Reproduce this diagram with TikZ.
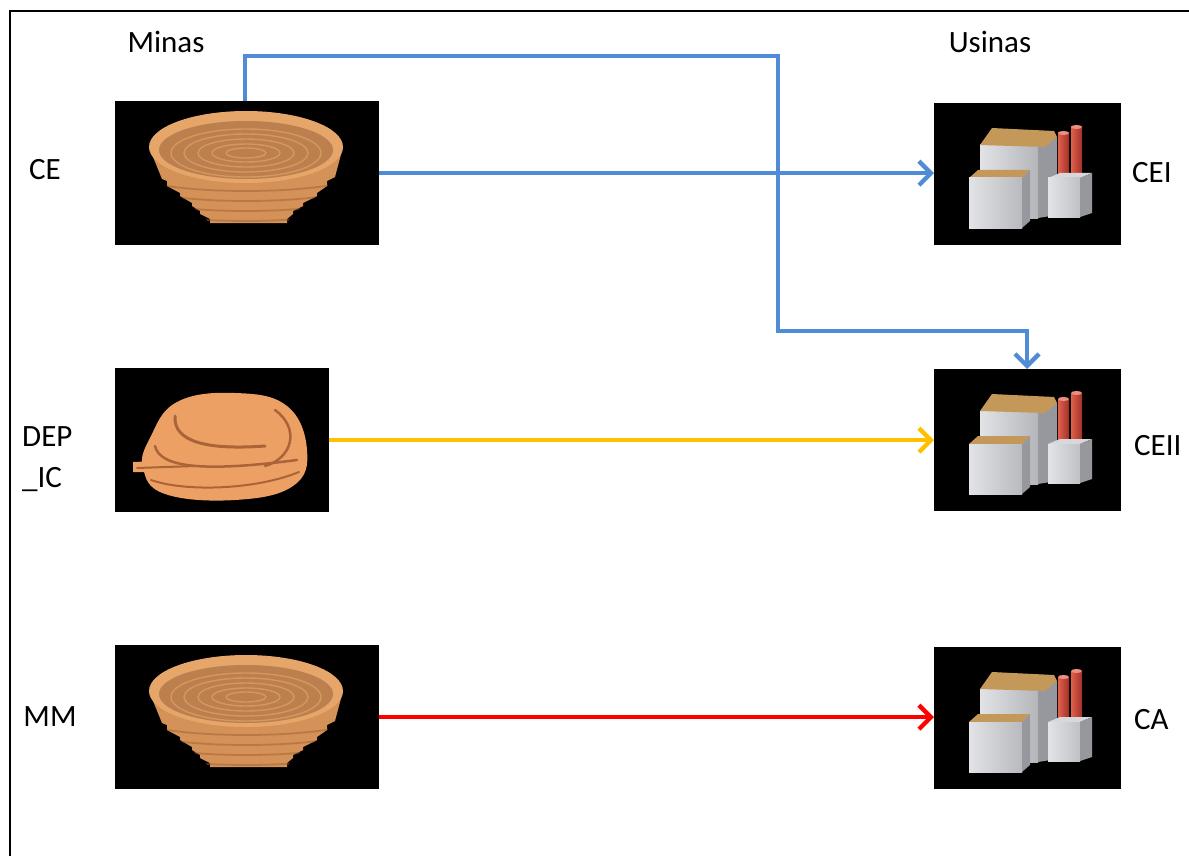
\documentclass[tikz,border=0pt]{standalone}
\usepackage{fontspec}
\setmainfont{Carlito}
\usetikzlibrary{arrows.meta}

\definecolor{flowblue}{RGB}{79,139,214}
\definecolor{flowyellow}{RGB}{255,192,0}
\definecolor{flowred}{RGB}{255,0,0}
\definecolor{ore}{RGB}{212,145,88}
\definecolor{oredark}{RGB}{160,98,52}
\definecolor{orelight}{RGB}{230,165,105}
\definecolor{mound}{RGB}{236,160,100}
\definecolor{mounddark}{RGB}{170,100,55}
\definecolor{roof}{RGB}{196,152,88}
\definecolor{wall}{RGB}{225,227,231}
\definecolor{wallshade}{RGB}{150,152,158}
\definecolor{stack}{RGB}{225,95,75}
\definecolor{stackdark}{RGB}{160,50,40}

% open-pit mine drawn as a stepped bowl, in local box coordinates
\newcommand{\pitbowl}{%
  \path[fill=ore] (34,46) -- (47,78) -- (52,80) -- (52,85) -- (65,92) -- (65,95)
    -- (77,102) -- (77,105) -- (85,110) -- (85,113) -- (95,118) -- (95,122)
    -- (172,122) -- (172,118) -- (178,113) -- (178,110) -- (188,105) -- (188,102)
    -- (202,95) -- (202,92) -- (212,85) -- (212,80) -- (220,76) -- (228,46) -- cycle;
  \begin{scope}
    \clip (34,46) -- (47,78) -- (52,85) -- (65,95) -- (77,105) -- (85,113) -- (95,122)
      -- (172,122) -- (178,113) -- (188,105) -- (202,95) -- (212,85) -- (220,76) -- (228,46) -- cycle;
    \foreach \yy in {70,80,90,100,108}
      \draw[oredark, line width=1.8pt, opacity=0.5] (11,\yy) arc[start angle=180, end angle=0, x radius=120, y radius=20];
  \end{scope}
  \fill[orelight] (131,46) ellipse[x radius=97, y radius=36];
  \fill[ore!88!black] (131,49) ellipse[x radius=87, y radius=29];
  \foreach \rr/\ss in {75/24,62/19,48/14,34/9,20/5}
    \draw[orelight!80!ore, line width=1.4pt, opacity=0.7] (131,52) ellipse[x radius=\rr, y radius=\ss];
}

% waste dump drawn as a terraced mound
\newcommand{\dumpmound}{%
  \fill[mound] plot[smooth cycle, tension=0.7] coordinates
    {(28,100) (35,70) (62,34) (120,25) (172,38) (192,82) (178,118) (120,132) (50,126)};
  \fill[mound] (18,94) -- (70,92) -- (70,104) -- (18,104) -- cycle;
  \draw[mounddark, line width=3pt, line cap=round] (60,48) .. controls (58,75) and (95,82) .. (150,78);
  \draw[mounddark, line width=2.5pt, line cap=round] (40,78) .. controls (45,100) and (90,104) .. (182,92);
  \draw[mounddark, line width=2.5pt, line cap=round] (160,42) .. controls (185,60) and (178,90) .. (150,98);
  \draw[mounddark, line width=2pt, line cap=round] (22,100) -- (80,98);
  \draw[mounddark, line width=2pt, line cap=round] (36,112) .. controls (70,124) and (140,122) .. (184,104);
}

% processing plant drawn as grey blocks with two red stacks
\newcommand{\plant}{%
  % main block
  \fill[wallshade] (104,44) -- (123,34) -- (123,112) -- (104,115) -- cycle;
  \shade[left color=wall, right color=wall!80!black] (46,42) rectangle (104,115);
  \fill[roof] (46,42) -- (58,25) -- (120,28) -- (123,34) -- (111,44) -- cycle;
  % stacks
  \shade[left color=stack, right color=stackdark] (124,30) rectangle (135,80);
  \shade[left color=stack, right color=stackdark] (137,24) rectangle (148,80);
  \fill[stack!70!white] (129.5,30) ellipse[x radius=5.5, y radius=2];
  \fill[stack!70!white] (142.5,24) ellipse[x radius=5.5, y radius=2];
  % small right block
  \fill[wall!95!black] (114,75) -- (146,75) -- (158,70) -- (126,70) -- cycle;
  \shade[left color=wall, right color=wall!85!black] (114,75) rectangle (146,114);
  \fill[wallshade] (146,75) -- (158,70) -- (158,110) -- (146,114) -- cycle;
  % front left block
  \fill[roof] (35,75) -- (44,67) -- (96,67) -- (88,75) -- cycle;
  \shade[left color=wall, right color=wall!82!black] (35,75) rectangle (88,125);
  \fill[wallshade] (88,75) -- (96,67) -- (96,118) -- (88,125) -- cycle;
}

\begin{document}
\begin{tikzpicture}[x=1pt, y=-1pt,
    lbl/.style={font=\fontsize{31}{41}\selectfont, inner sep=0pt},
    minebox/.style={fill=black, draw=none, inner sep=0pt, anchor=north west, minimum height=144pt},
    plantbox/.style={fill=black, draw=none, inner sep=0pt, anchor=north west, minimum width=187pt, minimum height=142pt},
    flow/.style={line width=4.3pt, -{Straight Barb[length=12pt, width=24pt]}}]

  \useasboundingbox (0,0) rectangle (1189,856);
  \fill[white] (0,0) rectangle (1189,856);

  % outer frame (runs off the right and bottom edges)
  \draw[line width=2pt] (10,860) -- (10,11) -- (1195,11);

  % mines
  \node[minebox, minimum width=264pt] (ce) at (115,101) {};
  \node[minebox, minimum width=214pt] (dep) at (115,368) {};
  \node[minebox, minimum width=264pt] (mm) at (115,645) {};

  % plants
  \node[plantbox] (cei) at (934,103) {};
  \node[plantbox] (ceii) at (934,369) {};
  \node[plantbox] (ca) at (934,647) {};

  \begin{scope}[shift={(ce.north west)}] \pitbowl \end{scope}
  \begin{scope}[shift={(mm.north west)}] \pitbowl \end{scope}
  \begin{scope}[shift={(dep.north west)}] \dumpmound \end{scope}
  \begin{scope}[shift={(cei.north west)}] \plant \end{scope}
  \begin{scope}[shift={(ceii.north west)}] \plant \end{scope}
  \begin{scope}[shift={(ca.north west)}] \plant \end{scope}

  % labels
  \node[lbl] (tminas) at (166,42) {Minas};
  \node[lbl] (tusinas) at (990,42) {Usinas};
  \node[lbl] (tce) at (45,170) {CE};
  \node[lbl, align=left, anchor=west] (tdep) at (22,459) {DEP\\\_IC};
  \node[lbl] (tmm) at (50,717) {MM};
  \node[lbl, anchor=west] (tcei) at (1132,173) {CEI};
  \node[lbl, anchor=west] (tceii) at (1134,446) {CEII};
  \node[lbl, anchor=west] (tca) at (1134,720) {CA};

  % flows
  \coordinate (up) at (778,56);
  \coordinate (down) at (778,331);
  \draw[flow, flowblue] (ce.east) -- (ce.east -| cei.west);
  \draw[flow, flowblue] ([xshift=130pt]ce.north west) |- (up) -- (down)
    -| ([xshift=93pt]ceii.north west);
  \draw[flow, flowyellow] (dep.east) -- (dep.east -| ceii.west);
  \draw[flow, flowred] (mm.east) -- (mm.east -| ca.west);
\end{tikzpicture}
\end{document}
